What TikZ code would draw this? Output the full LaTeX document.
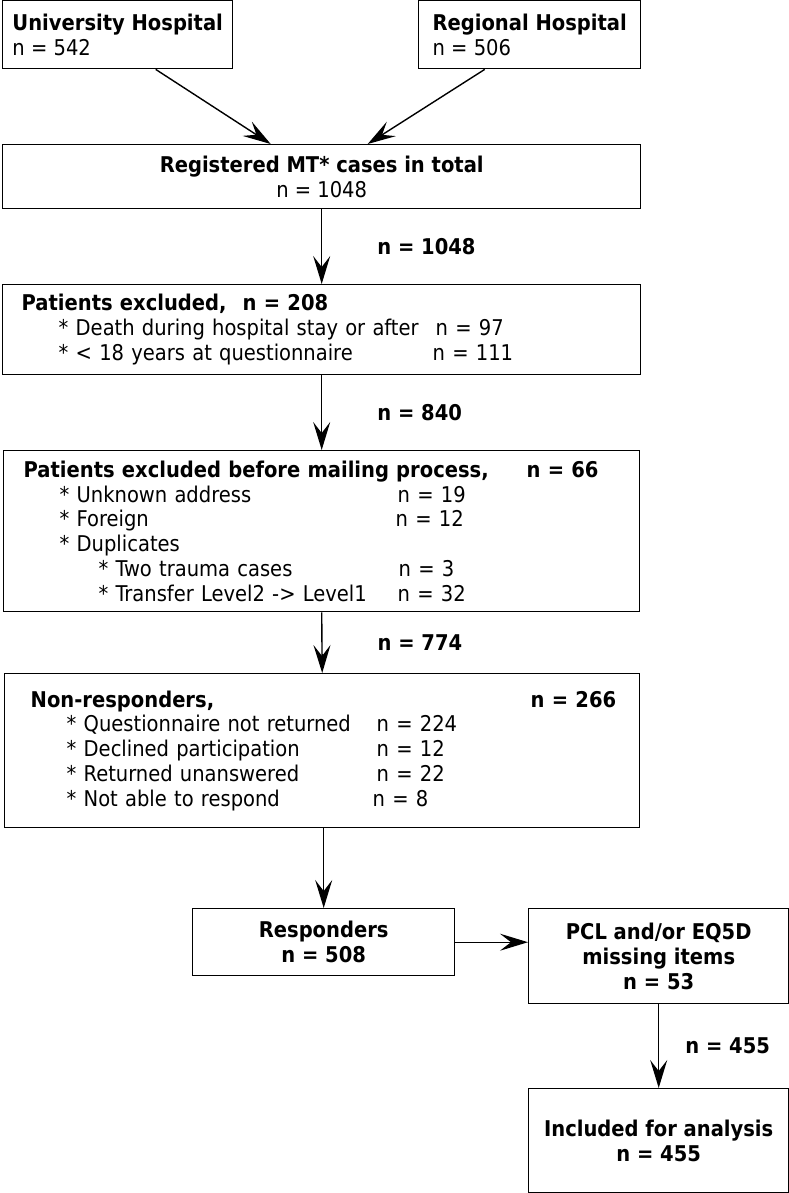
\documentclass[tikz,border=0pt]{standalone}
\usepackage{fontspec}
\setmainfont{DejaVu Sans Condensed}
\usetikzlibrary{arrows.meta, positioning}

\newcommand{\txtsize}{\fontsize{21.7}{24.8}\selectfont}
\newcommand{\itemrow}[4]{\hspace*{#1pt}\makebox[#2pt][l]{#3}#4}

\tikzset{
    flowbox/.style={draw, line width=1.4pt, anchor=north west, inner sep=0pt, font=\txtsize},
    arr/.style={-{Stealth[length=28pt, width=17pt, inset=11pt]}, line width=1.4pt},
    lbl/.style={font=\txtsize\bfseries, inner sep=0pt}
}

\begin{document}
\begin{tikzpicture}[x=1pt, y=-1pt]

    \useasboundingbox (0, 0) rectangle (789, 1193);

    % sources
    \node[flowbox, align=left, minimum width=230pt, minimum height=68pt] (univ) at (2, 0)
        {\textbf{University Hospital}\\n = 542};
    \node[flowbox, align=left, minimum width=222pt, minimum height=68pt] (reg) at (418, 0)
        {\textbf{Regional Hospital}\\n = 506};

    \node[flowbox, align=center, minimum width=638pt, minimum height=64pt] (total) at (2, 144)
        {\textbf{Registered MT* cases in total}\\n = 1048};

    % exclusions
    \node[flowbox, align=left, minimum width=638pt, minimum height=90pt, text width=600pt, inner xsep=19pt] (excl) at (2, 284)
        {\textbf{\makebox[221pt][l]{Patients excluded,}n = 208}\\
         \itemrow{37}{377}{* Death during hospital stay or after}{n = 97}\\
         \itemrow{37}{374}{* < 18 years at questionnaire}{n = 111}};

    \node[flowbox, align=left, minimum width=636pt, minimum height=161pt, text width=596pt, inner xsep=20pt] (mail) at (3, 450)
        {\textbf{\makebox[503pt][l]{Patients excluded before mailing process,}n = 66}\\
         \itemrow{36}{338}{* Unknown address}{n = 19}\\
         \itemrow{36}{336}{* Foreign}{n = 12}\\
         \itemrow{36}{0}{* Duplicates}{}\\
         \itemrow{75}{300}{* Two trauma cases}{n = 3}\\
         \itemrow{75}{299}{* Transfer Level2 -> Level1}{n = 32}};

    \node[flowbox, align=left, minimum width=635pt, minimum height=154pt, text width=583pt, inner xsep=26pt] (nonresp) at (4, 673)
        {\makebox[0pt][l]{\textbf{\makebox[500pt][l]{Non-responders,}n = 266}}\\
         \itemrow{36}{310}{* Questionnaire not returned}{n = 224}\\
         \itemrow{36}{310}{* Declined participation}{n = 12}\\
         \itemrow{36}{310}{* Returned unanswered}{n = 22}\\
         \itemrow{36}{306}{* Not able to respond}{n = 8}};

    % responders
    \node[flowbox, align=center, font=\txtsize\bfseries, minimum width=262pt, minimum height=67pt] (resp) at (192, 908)
        {Responders\\n = 508};
    \node[flowbox, align=center, font=\txtsize\bfseries, minimum width=260pt, minimum height=95pt] (pcl) at (528, 908)
        {PCL and/or EQ5D\\missing items\\n = 53};
    \node[flowbox, align=center, font=\txtsize\bfseries, minimum width=260pt, minimum height=104pt] (incl) at (528, 1088)
        {Included for analysis\\n = 455};

    % connectors
    \draw[arr] ([xshift=38pt]univ.south) -- ([xshift=-51pt]total.north);
    \draw[arr] ([xshift=-45pt]reg.south) -- ([xshift=46pt]total.north);
    \draw[arr] (total.south) -- node[lbl, midway, right=55pt]{n = 1048} (excl.north);
    \draw[arr] (excl.south) -- node[lbl, midway, right=55pt]{n = 840} (mail.north);
    \draw[arr] (mail.south) -- node[lbl, midway, right=55pt]{n = 774} (nonresp.north);
    \draw[arr] (resp.north |- nonresp.south) -- (resp.north);
    \draw[arr] (resp.east) -- (pcl.west |- resp.east);
    \draw[arr] (pcl.south) -- node[lbl, midway, right=26pt]{n = 455} (incl.north);

\end{tikzpicture}
\end{document}
